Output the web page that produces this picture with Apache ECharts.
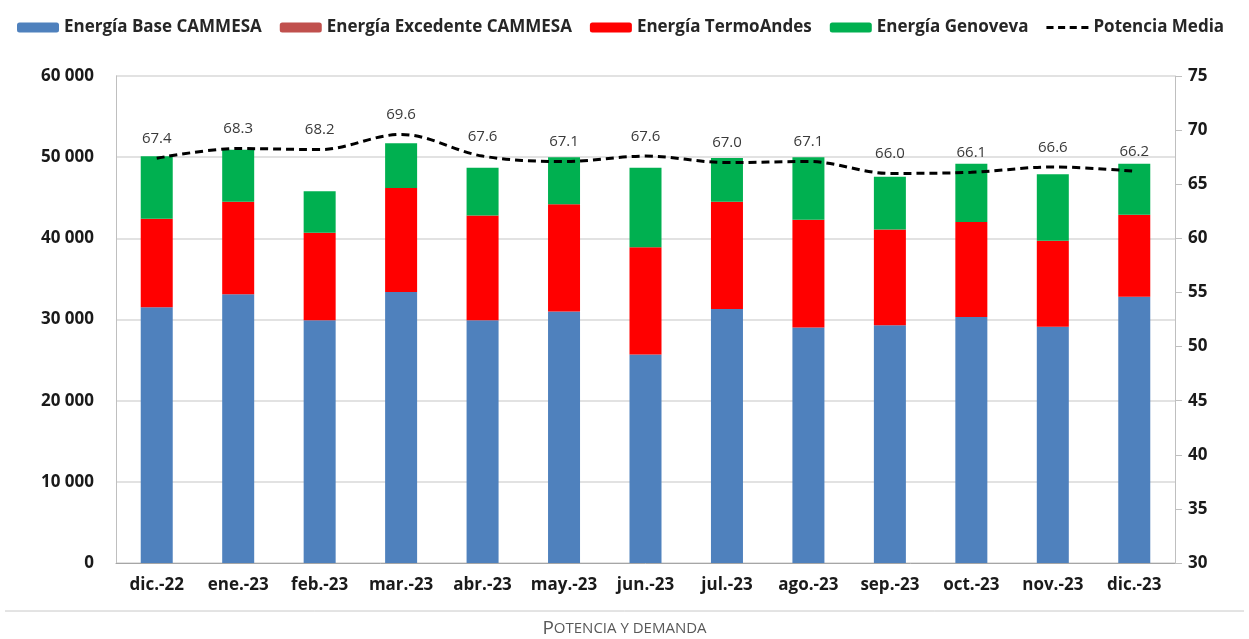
<!DOCTYPE html>
<html><head><meta charset="utf-8">
<script src="https://cdn.jsdelivr.net/npm/echarts@6/dist/echarts.min.js"></script>
<style>html,body{margin:0;padding:0;background:#fff}#c{width:1249px;height:639px}</style>
</head><body><div id="c"></div>
<script>
const categories = ['dic.-22','ene.-23','feb.-23','mar.-23','abr.-23','may.-23','jun.-23','jul.-23','ago.-23','sep.-23','oct.-23','nov.-23','dic.-23'];
const baseCammesa = [31500,33100,29900,33400,29900,31000,25700,31300,29000,29300,30300,29100,32800];
const excedenteCammesa = [0,0,0,0,0,0,0,0,0,0,0,0,0];
const termoAndes = [10900,11400,10800,12800,12900,13200,13200,13200,13300,11800,11700,10600,10100];
const genoveva = [7700,6400,5100,5500,5900,5800,9800,5400,7700,6500,7200,8200,6300];
const potenciaMedia = [67.4,68.3,68.2,69.6,67.6,67.1,67.6,67.0,67.1,66.0,66.1,66.6,66.2];
const leftTicks = [0,10000,20000,30000,40000,50000,60000];
const rightTicks = [30,35,40,45,50,55,60,65,70,75];

const chart = echarts.init(document.getElementById('c'));
const FONT = 'Open Sans';
const axisLbl = {color:'#1a1a1a', fontWeight:'bold', fontSize:17, fontFamily:FONT};
const barW = 32;
chart.setOption({
  animation:false,
  textStyle:{fontFamily:FONT},
  legend:{
    top:14, left:12, itemWidth:42, itemHeight:10, itemGap:18,
    textStyle:{color:'#262626', fontSize:17, fontWeight:'bold', fontFamily:FONT},
    data:['Energía Base CAMMESA','Energía Excedente CAMMESA','Energía TermoAndes','Energía Genoveva',
      {name:'Potencia Media', icon:'path://M0,0H7V3H0Z M11.5,0H18.5V3H11.5Z M23,0H30V3H23Z M34.5,0H41.5V3H34.5Z', itemStyle:{color:'#000'}}]
  },
  grid:{left:116, right:74, top:76, bottom:76},
  xAxis:{type:'category', data:categories,
    axisLine:{lineStyle:{color:'#a6a6a6'}}, axisTick:{show:false},
    axisLabel:Object.assign({margin:14, interval:0}, axisLbl)},
  yAxis:[
    {type:'value', min:leftTicks[0], max:leftTicks[leftTicks.length-1], interval:10000,
     axisLine:{show:true, lineStyle:{color:'#bfbfbf'}}, axisTick:{show:false},
     splitLine:{lineStyle:{color:'#d9d9d9', width:1.5}},
     axisLabel:Object.assign({margin:22, formatter:v=>v===0?'0':String(v).replace(/\B(?=(\d{3})+(?!\d))/g,' ')}, axisLbl)},
    {type:'value', min:rightTicks[0], max:rightTicks[rightTicks.length-1], interval:5, position:'right',
     axisLine:{show:true, lineStyle:{color:'#bfbfbf'}}, axisTick:{show:true, length:7, lineStyle:{color:'#bfbfbf'}},
     splitLine:{show:false},
     axisLabel:Object.assign({margin:13}, axisLbl)}
  ],
  series:[
    {name:'Energía Base CAMMESA', type:'bar', stack:'e', barWidth:barW, data:baseCammesa, itemStyle:{color:'#4f81bd'}},
    {name:'Energía Excedente CAMMESA', type:'bar', stack:'e', barWidth:barW, data:excedenteCammesa, itemStyle:{color:'#c0504d'}},
    {name:'Energía TermoAndes', type:'bar', stack:'e', barWidth:barW, data:termoAndes, itemStyle:{color:'#ff0000'}},
    {name:'Energía Genoveva', type:'bar', stack:'e', barWidth:barW, data:genoveva, itemStyle:{color:'#00b050'}},
    {name:'Potencia Media', type:'line', yAxisIndex:1, data:potenciaMedia, smooth:0.35,
     symbol:'circle', symbolSize:0.01, showSymbol:true, z:5,
     lineStyle:{color:'#000', width:3, type:[8,5]}, itemStyle:{color:'#000'},
     label:{show:true, position:'top', distance:12, color:'#3a3a3a', fontSize:15, fontFamily:FONT, formatter:p=>p.value.toFixed(1)}}
  ],
  graphic:[
    {type:'line', shape:{x1:5, y1:611, x2:1244, y2:611}, style:{stroke:'#c8c8c8', lineWidth:1}},
    {type:'text', left:'center', top:619, style:{
      text:'{a|P}{b|OTENCIA Y DEMANDA}',
      rich:{a:{fontSize:19, fill:'#595959', fontFamily:FONT}, b:{fontSize:15, fill:'#595959', fontFamily:FONT}}}}
  ]
});
</script></body></html>
